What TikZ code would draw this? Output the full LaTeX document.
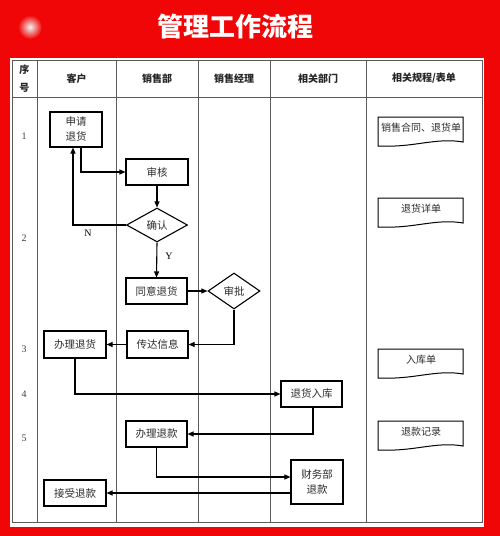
\documentclass[tikz,border=0pt]{standalone}
\usepackage{fontspec}
\setmainfont{Liberation Serif}
\newfontfamily\cjk{Noto Sans CJK SC}
\usetikzlibrary{arrows.meta,shapes.geometric}
\definecolor{bgred}{RGB}{240,6,6}
\definecolor{gridc}{RGB}{90,90,90}
\definecolor{txt}{RGB}{45,45,45}
\tikzset{
  box/.style={draw=black,line width=1.1pt,fill=white,inner sep=1pt,text=txt,font=\cjk\fontsize{10.5}{15}\selectfont,align=center},
  dia/.style={draw=black,line width=1.1pt,fill=white,diamond,inner sep=0pt,text=txt,font=\cjk\fontsize{10.5}{13}\selectfont},
  arr/.style={line width=1.1pt,-{Triangle[length=6pt,width=5pt]}},
  grid/.style={draw=gridc,line width=0.8pt},
  hdr/.style={font=\cjk\bfseries\fontsize{10}{13}\selectfont,text=black!85,align=center},
  num/.style={font=\fontsize{10}{12}\selectfont,text=black!75},
  doctext/.style={font=\cjk\fontsize{10}{12}\selectfont,text=txt},
  docline/.style={draw=black,line width=1pt,fill=white}
}
\newcommand{\docshape}[3]{% top y, name, text
  \draw[docline] (378,#1) -- (463,#1) -- (463,#1+25) .. controls (440,#1+21) and (420,#1+28) .. (395,#1+29) .. controls (388,#1+29) and (382,#1+29) .. (378,#1+29) -- cycle;
  \node[doctext] (#2) at (421,#1+11) {#3};
}
\begin{document}
\begin{tikzpicture}[x=1pt,y=-1pt]
\useasboundingbox (0,0) rectangle (500,536);
\fill[bgred] (0,0) rectangle (500,536);
% faded logo
\shade[inner color=white!90!gray,outer color=bgred] (30,27) circle (12);
\node[font=\cjk\bfseries\fontsize{26}{30}\selectfont,text=white] (title) at (235,27) {管理工作流程};
% table
\fill[white] (10,58) rectangle (484,527);
\draw[grid] (12,60) rectangle (482,522);
\draw[grid] (12,97) -- (482,97);
\foreach \x in {37,116,198,270,366} \draw[grid] (\x,60) -- (\x,522);
% headers
\node[hdr,font=\cjk\bfseries\fontsize{10}{18}\selectfont] (h0) at (24.5,79) {序\\号};
\node[hdr] (h1) at (76.5,78.5) {客户};
\node[hdr] (h2) at (157,78.5) {销售部};
\node[hdr] (h3) at (234,78.5) {销售经理};
\node[hdr] (h4) at (318,78.5) {相关部门};
\node[hdr] (h5) at (424,78.5) {相关规程/表单};
% row numbers
\node[num] (n1) at (24,136) {1};
\node[num] (n2) at (24,238) {2};
\node[num] (n3) at (24,349) {3};
\node[num] (n4) at (24,394) {4};
\node[num] (n5) at (24,438) {5};
% nodes
\node[box,minimum width=52pt,minimum height=35pt] (sq) at (76,129.5) {申请\\退货};
\node[box,minimum width=62pt,minimum height=26pt] (sh) at (157,172) {审核};
\node[dia,minimum width=61pt,minimum height=34pt,shape aspect=1.8] (qr) at (157,225) {确认};
\node[box,minimum width=61pt,minimum height=26pt] (ty) at (156.5,291) {同意退货};
\node[dia,minimum width=52pt,minimum height=36pt,shape aspect=1.45] (sp) at (234,291) {审批};
\node[box,minimum width=61pt,minimum height=27pt] (cd) at (157.5,344.5) {传达信息};
\node[box,minimum width=62pt,minimum height=27pt] (blth) at (75,344.5) {办理退货};
\node[box,minimum width=61pt,minimum height=26pt] (thrk) at (311.5,394) {退货入库};
\node[box,minimum width=61pt,minimum height=26pt] (blk) at (156.5,434) {办理退款};
\node[box,minimum width=52pt,minimum height=44pt] (cw) at (317,482) {财务部\\退款};
\node[box,minimum width=62pt,minimum height=26pt] (js) at (75,493) {接受退款};
% documents
\docshape{117}{d1}{销售合同、退货单}
\docshape{198}{d2}{退货详单}
\docshape{349}{d3}{入库单}
\docshape{421}{d4}{退款记录}
% connectors
\draw[arr] ([xshift=5pt]sq.south) |- (sh.west);
\draw[arr] (sh.south) -- (qr.north);
\draw[arr] (qr.west) -| ([xshift=-3pt]sq.south);
\node[num,text=black] (lN) at (88,233) {N};
\draw[arr] (qr.south) -- (ty.north);
\node[num,text=black] (lY) at (169,256) {Y};
\draw[arr] (ty.east) -- (sp.west);
\draw[arr] (sp.south) |- (cd.east);
\draw[arr] (cd.west) -- (blth.east);
\draw[arr] (blth.south) |- (thrk.west);
\draw[arr] ([xshift=1.5pt]thrk.south) |- (blk.east);
\draw[arr] (blk.south) |- ([yshift=5pt]cw.west);
\draw[arr] ([yshift=-11pt]cw.west) -- (js.east);
\end{tikzpicture}
\end{document}
